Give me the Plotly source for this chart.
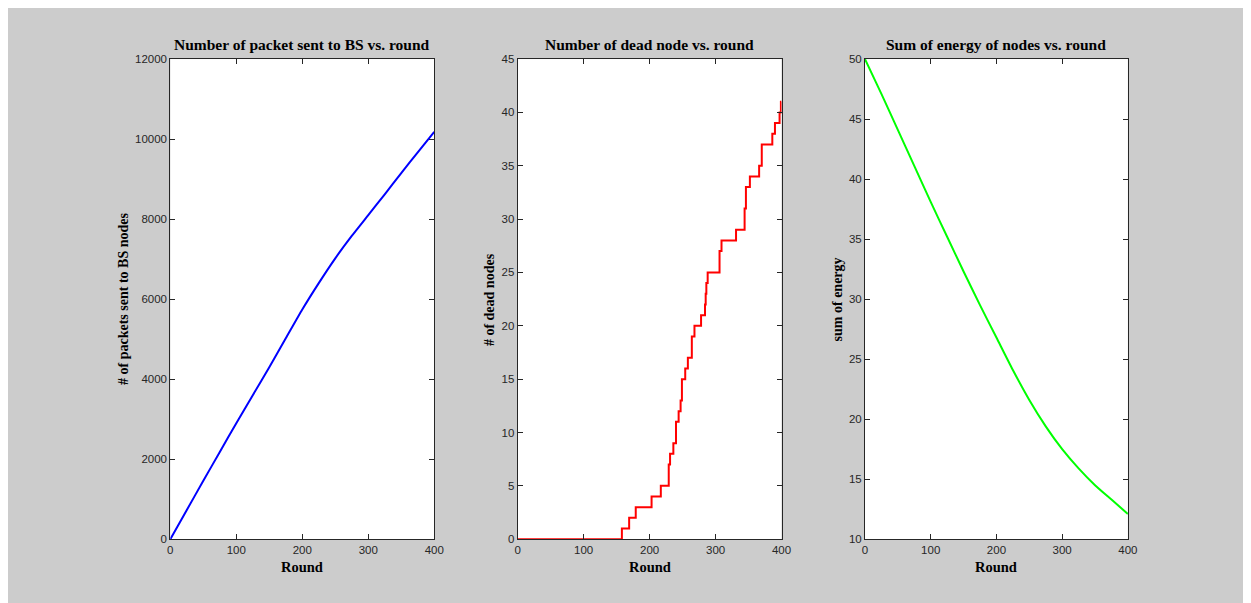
import plotly.graph_objects as go

# ---- data ----
rounds = [0, 25, 50, 75, 100, 125, 150, 175, 200, 225, 250, 275, 300, 325, 350, 375, 400]
packets_to_bs = [0, 730, 1460, 2180, 2900, 3600, 4300, 5020, 5740, 6400, 7020, 7580, 8100, 8620, 9150, 9670, 10180]

dead_rounds = [0, 158, 169, 179, 203, 217, 229, 231, 236, 240, 244, 247, 249, 254, 258, 264, 268,
               278, 284, 285, 286, 288, 306, 309, 331, 344, 346, 352, 366, 370, 386, 390, 397, 399, 400]
dead_nodes = [0, 1, 2, 3, 4, 5, 7, 8, 9, 11, 12, 13, 15, 16, 17, 19, 20,
              21, 22, 23, 24, 25, 27, 28, 29, 31, 33, 34, 35, 37, 38, 39, 40, 41, 41]

energy_sum = [50, 47.1, 44.1, 41.1, 38.1, 35.2, 32.3, 29.5, 26.8, 24.1, 21.6, 19.4, 17.5, 15.9, 14.5, 13.3, 12.1]

titles = ["Number of packet sent to BS vs. round",
          "Number of dead node vs. round",
          "Sum of energy of nodes vs. round"]
y_labels = ["# of packets sent to BS nodes", "# of dead nodes", "sum of energy"]
x_label = "Round"

OFF = 8  # page margin in the browser
W, H = 1251 - OFF, 603 - OFF
BG = "#cccccc"
# plot area pixel boxes in the reference image (left, right)
xboxes = [(169, 435.7), (520, 786.7), (871, 1136.7)]
ytop, ybot = 54, 544

def px(x):
    return (x - OFF) / W

def py(y):
    return (H - (y - OFF)) / H

fig = go.Figure()
fig.add_trace(go.Scatter(x=rounds, y=packets_to_bs, mode="lines",
                         line=dict(color="#0000ff", width=2, shape="spline", smoothing=0.6),
                         xaxis="x", yaxis="y"))
fig.add_trace(go.Scatter(x=dead_rounds, y=dead_nodes, mode="lines",
                         line=dict(color="#ff0000", width=2, shape="hv"), xaxis="x2", yaxis="y2"))
fig.add_trace(go.Scatter(x=rounds, y=energy_sum, mode="lines",
                         line=dict(color="#00ff00", width=2, shape="spline", smoothing=0.6),
                         xaxis="x3", yaxis="y3"))

tickfont = dict(family="Liberation Sans, Arial, sans-serif", size=11.5, color="#262626")
ydom = [py(ybot), py(ytop)]

def xax(i):
    l, r = xboxes[i]
    return dict(domain=[px(l), px(r)], range=[0, 400], dtick=100, tick0=0,
                showgrid=False, zeroline=False, showline=True, linecolor="#262626", linewidth=1,
                mirror="ticks", ticks="inside", ticklen=5, tickcolor="#262626",
                tickfont=tickfont, anchor=["y", "y2", "y3"][i], fixedrange=True)

def yax(i, rng, dt):
    return dict(domain=ydom, range=rng, dtick=dt, tick0=rng[0], tickformat="d",
                showgrid=False, zeroline=False, showline=True, linecolor="#262626", linewidth=1,
                mirror="ticks", ticks="inside", ticklen=5, tickcolor="#262626",
                tickfont=tickfont, anchor=["x", "x2", "x3"][i], fixedrange=True)

annotations = []
serif_bold = "Liberation Serif, Times New Roman, serif"
for i in range(3):
    l, r = xboxes[i]
    cx = px((l + r) / 2)
    annotations.append(dict(text="<b>%s</b>" % titles[i], x=cx, y=py(39), xref="paper", yref="paper",
                            showarrow=False, xanchor="center", yanchor="middle",
                            font=dict(family=serif_bold, size=15.5, color="#000000")))
    annotations.append(dict(text="<b>%s</b>" % x_label, x=cx, y=py(572), xref="paper", yref="paper",
                            showarrow=False, xanchor="center", yanchor="middle",
                            font=dict(family=serif_bold, size=14.5, color="#000000")))
ylab_x = [121, 491, 843]
for i in range(3):
    annotations.append(dict(text="<b>%s</b>" % y_labels[i], x=px(ylab_x[i]), y=py((ytop + ybot) / 2),
                            xref="paper", yref="paper", showarrow=False, textangle=-90,
                            xanchor="center", yanchor="middle",
                            font=dict(family=serif_bold, size=14, color="#000000")))

fig.update_layout(
    width=W, height=H, autosize=False,
    margin=dict(l=0, r=0, t=0, b=0, pad=0),
    paper_bgcolor=BG, plot_bgcolor="#ffffff",
    showlegend=False,
    xaxis=xax(0), xaxis2=xax(1), xaxis3=xax(2),
    yaxis=yax(0, [0, 12000], 2000), yaxis2=yax(1, [0, 45], 5), yaxis3=yax(2, [10, 50], 5),
    annotations=annotations,
)

fig.write_html("out.html", config={"responsive": False})
